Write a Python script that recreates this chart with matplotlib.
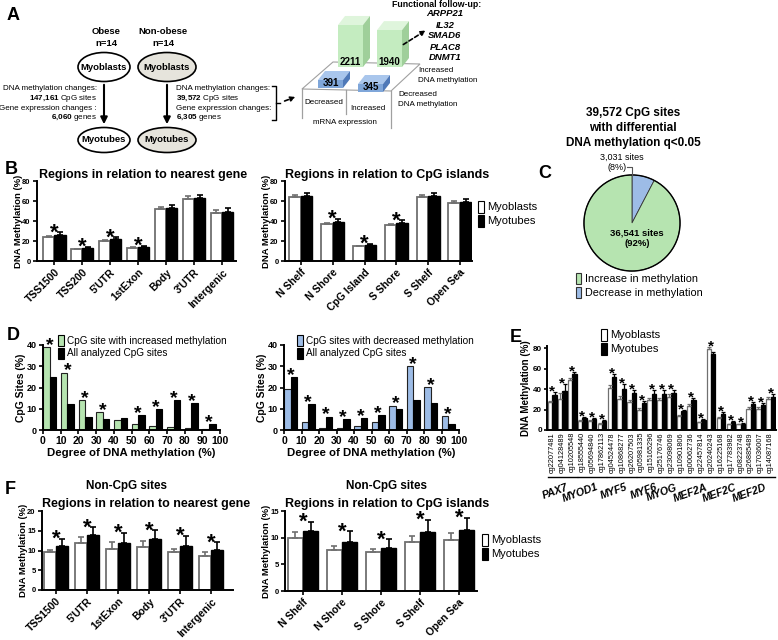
import numpy as np
import matplotlib
matplotlib.use('Agg')
import matplotlib.pyplot as plt
from matplotlib.patches import Ellipse, Polygon, Rectangle, FancyArrowPatch
import matplotlib.transforms as mtransforms

# ---------------- data ----------------
cohort_names = ['Obese', 'Non-obese']
cohort_n = [14, 14]
cpg_sites_changed = ['147,161', '39,572']
genes_changed = ['6,060', '6,305']
overlap_counts = [2211, 1940, 391, 345]   # inc-meth/dec-mRNA, inc-meth/inc-mRNA, dec-meth/dec-mRNA, dec-meth/inc-mRNA
followup_genes = ['ARPP21', 'IL32', 'SMAD6', 'PLAC8', 'DNMT1']

gene_regions = ['TSS1500', 'TSS200', "5'UTR", '1stExon', 'Body', "3'UTR", 'Intergenic']
gene_myoblasts = [24, 12, 20.5, 13.5, 52, 62.5, 48.5]
gene_myoblasts_err = [1.0, 0.5, 0.8, 0.6, 2.0, 2.5, 2.5]
gene_myotubes = [26, 13.5, 22, 14.5, 53.5, 63.5, 49.5]
gene_myotubes_err = [3.0, 1.0, 2.0, 1.0, 3.0, 3.0, 3.5]
gene_sig = [1, 1, 1, 1, 0, 0, 0]

island_regions = ['N Shelf', 'N Shore', 'CpG Island', 'S Shore', 'S Shelf', 'Open Sea']
island_myoblasts = [64, 37, 15, 36, 64.5, 58]
island_myoblasts_err = [2.0, 1.5, 0.5, 1.5, 2.0, 2.0]
island_myotubes = [65, 39, 16, 38, 65.5, 59]
island_myotubes_err = [3.0, 3.5, 1.5, 3.0, 2.5, 3.0]
island_sig = [0, 1, 1, 1, 0, 0]

pie_labels = ['Increase in methylation', 'Decrease in methylation']
pie_counts = [36541, 3031]

meth_bins = [0, 10, 20, 30, 40, 50, 60, 70, 80, 90]
inc_sites = [39, 27, 14, 8.3, 4.8, 2.8, 1.7, 1.2, 0.8, 0.3]
all_sites = [25, 12.3, 6.3, 5.2, 5.6, 7.1, 9.8, 14.2, 12.5, 2.6]
inc_sig = [1, 1, 1, 1, 0, 1, 1, 1, 1, 1]
dec_sites = [19.5, 3.8, 0.9, 0.9, 1.8, 4.0, 11.5, 30, 20.3, 6.5]
dec_sig = [1, 1, 1, 1, 1, 1, 1, 1, 1, 1]

probes = ['cg22077481', 'cg04128489', 'cg10205548', 'cg18555440', 'cg05694840', 'cg17862113',
          'cg04524478', 'cg10868277', 'cg26207503', 'cg05981335', 'cg15165296', 'cg25176746',
          'cg23098069', 'cg10901806', 'cg00062736', 'cg22457814', 'cg20240243', 'cg16225168',
          'cg17783982', 'cg08223748', 'cg26885489', 'cg17036007', 'cg14087168']
probe_genes = ['PAX7', 'MYOD1', 'MYF5', 'MYF6', 'MYOG', 'MEF2A', 'MEF2C', 'MEF2D']
probes_per_gene = [3, 3, 3, 3, 2, 3, 3, 3]
probe_myoblasts = [27, 30.5, 49, 8.5, 8.5, 6.2, 41, 30.5, 27, 20, 28.8, 29.7, 31.8, 13.6, 23.6, 7.6,
                   79, 12, 5.5, 5.5, 20.6, 20.6, 30.3]
probe_myoblasts_err = [1.5, 6, 2, 1, 1, 1, 3, 3, 2, 1.5, 2, 2, 3, 1, 1.5, 0.5, 2, 1, 0.5, 0.5, 1.5, 1.5, 1.5]
probe_myotubes = [34.5, 38.5, 54.5, 11.5, 10.5, 9.2, 52, 40, 36, 26.7, 34.8, 34.8, 36.4, 18.2, 29.7, 9.7,
                  74, 15.8, 7.6, 6.1, 25.8, 24.8, 32.7]
probe_myotubes_err = [2.5, 6, 2.5, 1, 1, 1, 3, 5, 3, 2, 4, 4, 3, 1.5, 2, 1, 2, 1.5, 1, 0.5, 2, 2, 2]

nc_gene_regions = ['TSS1500', "5'UTR", '1stExon', 'Body', "3'UTR", 'Intergenic']
nc_gene_myoblasts = [9.5, 12, 10.5, 11, 9.5, 8.5]
nc_gene_myoblasts_err = [0.6, 1.4, 1.7, 1.3, 0.9, 1.2]
nc_gene_myotubes = [11.1, 14, 12, 13, 11.2, 10.2]
nc_gene_myotubes_err = [1.9, 1.9, 2.5, 2.1, 2.5, 1.9]
nc_gene_sig = [1, 1, 1, 1, 1, 1]

nc_island_regions = ['N Shelf', 'N Shore', 'S Shore', 'S Shelf', 'Open Sea']
nc_island_myoblasts = [10, 7.6, 7.3, 9.2, 9.5]
nc_island_myoblasts_err = [1.0, 0.8, 0.6, 1.2, 1.4]
nc_island_myotubes = [11.2, 9.2, 8.0, 11.0, 11.4]
nc_island_myotubes_err = [1.8, 2.0, 1.7, 2.4, 2.3]
nc_island_sig = [1, 1, 1, 1, 1]

series_names = ['Myoblasts', 'Myotubes']

# ---------------- setup ----------------
W, H = 778, 640
plt.rcParams['font.family'] = ['Liberation Sans', 'DejaVu Sans']
plt.rcParams['mathtext.fontset'] = 'custom'
plt.rcParams['mathtext.rm'] = 'Liberation Sans'
plt.rcParams['mathtext.bf'] = 'Liberation Sans:bold'
plt.rcParams['mathtext.it'] = 'Liberation Sans:italic'

fig = plt.figure(figsize=(W / 100, H / 100), dpi=100)
fig.patch.set_facecolor('white')


def overlay():
    o = fig.add_axes([0, 0, 1, 1])
    o.set_xlim(0, W)
    o.set_ylim(H, 0)
    o.axis('off')
    o.patch.set_alpha(0)
    return o


ov = overlay()


def add_ax(x0, y0, x1, y1):
    ax = fig.add_axes([x0 / W, 1 - y1 / H, (x1 - x0) / W, (y1 - y0) / H])
    ax._px = (x0, y0, x1, y1)
    return ax


def ylabel_at(ax, text, right_px, fs):
    x0, y0, x1, y1 = ax._px
    ax.set_ylabel(text, fontsize=fs, fontweight='bold')
    ax.yaxis.set_label_coords((right_px - x0) / (x1 - x0), 0.5)


GREEN = '#b6e4b0'
BLUE = '#9dbce6'
EDGE_W = '#707070'


def style_ax(ax, ytick_fs=5.5):
    for s in ['top', 'right']:
        ax.spines[s].set_visible(False)
    for s in ['left', 'bottom']:
        ax.spines[s].set_linewidth(1.4)
    ax.tick_params(axis='both', width=1.2, length=3, direction='out', pad=1.5)
    ax.tick_params(axis='y', labelsize=ytick_fs)
    for lab in ax.get_yticklabels():
        lab.set_fontweight('bold')
    ax.patch.set_alpha(0)


def star(ax, x, y, fs, dy=-3):
    ax.annotate('*', xy=(x, y), xytext=(0, dy), textcoords='offset points',
                ha='center', va='baseline', fontsize=fs, fontweight='bold', annotation_clip=False)


def grouped(ax, cats, a, ea, b, eb, sig, width, ylim, yticks, cat_fs, star_fs, ylab_fs=6.8):
    x = np.arange(len(cats))
    ax.bar(x - width / 2, a, width, color='white', edgecolor=EDGE_W, lw=1.3,
           yerr=[np.zeros(len(a)), ea], error_kw=dict(ecolor=EDGE_W, capsize=2.5, elinewidth=1.2, capthick=1.2))
    ax.bar(x + width / 2, b, width, color='black', edgecolor='black', lw=1.0,
           yerr=[np.zeros(len(b)), eb], error_kw=dict(ecolor='black', capsize=2.5, elinewidth=1.2, capthick=1.2))
    ax.set_ylim(*ylim)
    ax.set_yticks(yticks)
    ax.set_xticks(x)
    ax.set_xticklabels(cats, rotation=45, ha='right', rotation_mode='anchor', fontsize=cat_fs, fontweight='bold')
    ax.tick_params(axis='x', length=0, pad=2)
    style_ax(ax)
    ylabel_at(ax, 'DNA Methylation (%)', ax._px[0] - 14, ylab_fs)
    for i, s in enumerate(sig):
        if s:
            top = max(a[i] + ea[i], b[i] + eb[i])
            star(ax, x[i], top, star_fs, dy=-4.5)
    return x


# ---------------- Panel letters ----------------
for lab, (px, py) in zip('ABCDEF', [(7, 16), (5, 170), (538, 173), (7, 336), (510, 337), (5, 489)]):
    ov.text(px, py, lab, fontsize=13, fontweight='bold', ha='left', va='center')

# ---------------- Panel A (scheme) ----------------
col_x = [104, 167]
ell_w = [52, 58]
fills = ['white', '#e6e4dc']
for i in range(2):
    ov.text(col_x[i] + (2 if i == 0 else -4), 32, cohort_names[i], fontsize=6.8, fontweight='bold', ha='center', va='center')
    ov.text(col_x[i] + (2 if i == 0 else -4), 43, 'n=%d' % cohort_n[i], fontsize=6.8, fontweight='bold', ha='center', va='center')
    ov.add_patch(Ellipse((col_x[i], 67), ell_w[i], 29, fc=fills[i], ec='black', lw=1.2))
    ov.text(col_x[i], 67, 'Myoblasts', fontsize=6.8, fontweight='bold', ha='center', va='center')
    ov.add_patch(Ellipse((col_x[i], 140), ell_w[i], 25, fc=fills[i], ec='black', lw=1.2))
    ov.text(col_x[i], 140, 'Myotubes', fontsize=6.8, fontweight='bold', ha='center', va='center')
    ov.add_patch(FancyArrowPatch((col_x[i], 82), (col_x[i], 127), arrowstyle='-|>', mutation_scale=10,
                                 lw=1.5, color='black'))

ov.text(97, 89, 'DNA methylation changes:', fontsize=5.8, ha='right', va='center')
ov.text(97, 98.5, r'$\mathbf{%s}$ CpG sites' % cpg_sites_changed[0].replace(',', '{,}'), fontsize=5.8, ha='right', va='center')
ov.text(97, 108, 'Gene expression changes :', fontsize=5.8, ha='right', va='center')
ov.text(97, 117.5, r'$\mathbf{%s}$ genes' % genes_changed[0].replace(',', '{,}'), fontsize=5.8, ha='right', va='center')
ov.text(176, 89, 'DNA methylation changes:', fontsize=5.8, ha='left', va='center')
ov.text(176, 98.5, r'$\mathbf{%s}$ CpG sites' % cpg_sites_changed[1].replace(',', '{,}'), fontsize=5.8, ha='left', va='center')
ov.text(176, 108, 'Gene expression changes:', fontsize=5.8, ha='left', va='center')
ov.text(176, 117.5, r'$\mathbf{%s}$ genes' % genes_changed[1].replace(',', '{,}'), fontsize=5.8, ha='left', va='center')
# bracket
ov.plot([272, 276, 276, 272], [86, 86, 120, 120], color='black', lw=1.0)
ov.plot([276, 280], [103, 103], color='black', lw=1.0)
ov.add_patch(FancyArrowPatch((282, 102), (298, 96), arrowstyle='-|>', mutation_scale=7, lw=1.2,
                             color='black', linestyle=(0, (2.5, 1.5))))

# floor of 3D chart
ov.add_patch(Polygon([(302, 89), (391, 91), (420, 64), (333, 62)], closed=True, fc='white', ec='#a0a0a0', lw=0.8))
ov.plot([302, 302], [89, 118], color='#a0a0a0', lw=0.9)
ov.plot([346, 346], [90, 114], color='#a0a0a0', lw=0.9)
ov.plot([391, 391], [91, 128], color='#a0a0a0', lw=0.9)
ov.text(324, 103, 'Decreased', fontsize=5.8, ha='center', va='center')
ov.text(368, 108, 'Increased', fontsize=5.8, ha='center', va='center')
ov.text(345, 123, 'mRNA expression', fontsize=5.8, ha='center', va='center')
ov.text(418, 70, 'Increased', fontsize=5.8, ha='left', va='center')
ov.text(418, 80, 'DNA methylation', fontsize=5.8, ha='left', va='center')
ov.text(398, 95, 'Decreased', fontsize=5.8, ha='left', va='center')
ov.text(398, 104, 'DNA methylation', fontsize=5.8, ha='left', va='center')

px_per_site = 0.019


def box3d(x, base, val, front, top, side, w=25, dx=7, dy=-9, min_h=8):
    h = max(val * px_per_site, min_h)
    yt = base - h
    ov.add_patch(Polygon([(x, yt), (x + w, yt), (x + w + dx, yt + dy), (x + dx, yt + dy)], fc=top, ec='none'))
    ov.add_patch(Polygon([(x + w, base), (x + w, yt), (x + w + dx, yt + dy), (x + w + dx, base + dy)], fc=side, ec='none'))
    ov.add_patch(Rectangle((x, yt), w, h, fc=front, ec='none'))
    ov.text(x + w / 2, base - 5, '%d' % val, fontsize=7, fontweight='bold', ha='center', va='center')


box3d(338, 67, overlap_counts[0], '#c4ecc0', '#dff5dc', '#9fcf9a')
box3d(377, 67, overlap_counts[1], '#c4ecc0', '#dff5dc', '#9fcf9a')
box3d(318, 88, overlap_counts[2], '#7fa6d9', '#a9c6ec', '#4f79b8')
box3d(358, 92, overlap_counts[3], '#7fa6d9', '#a9c6ec', '#4f79b8')

ov.add_patch(FancyArrowPatch((401, 46), (428, 29), arrowstyle='-|>', mutation_scale=7, lw=1.2,
                             color='black', linestyle=(0, (2.5, 1.5))))
ov.text(437, 4.5, 'Functional follow-up:', fontsize=6.3, fontweight='bold', ha='center', va='center')
for k, g in enumerate(followup_genes):
    ov.text(445, 14 + k * 11, g, fontsize=6.8, fontstyle='italic', fontweight='bold', ha='center', va='center')

# ---------------- Panel B ----------------
axB1 = add_ax(37, 181, 236, 261)
grouped(axB1, gene_regions, gene_myoblasts, gene_myoblasts_err, gene_myotubes, gene_myotubes_err,
        gene_sig, 0.4, (0, 80), [0, 20, 40, 60, 80], 7.5, 16)
axB1.set_xlim(-0.62, 6.5)
axB1.set_title('Regions in relation to nearest gene', fontsize=9, fontweight='bold', loc='left', pad=2.5, x=0.01)

axB2 = add_ax(285, 181, 472, 261)
grouped(axB2, island_regions, island_myoblasts, island_myoblasts_err, island_myotubes, island_myotubes_err,
        island_sig, 0.36, (0, 80), [0, 20, 40, 60, 80], 7.5, 16)
axB2.set_xlim(-0.5, 5.38)
axB2.set_title('Regions in relation to CpG islands', fontsize=9, fontweight='bold', loc='left', pad=2.5, x=0.0)


def mini_legend(x, y, names, colors, fs=8, gap=14):
    for k, (n, c) in enumerate(zip(names, colors)):
        ov.add_patch(Rectangle((x, y + k * gap - 6), 6, 12, fc=c, ec='black', lw=0.8))
        ov.text(x + 9, y + k * gap, n, fontsize=fs, ha='left', va='center')


mini_legend(478, 207, series_names, ['white', 'black'])

# ---------------- Panel C (pie) ----------------
ov.text(633, 113, '39,572 CpG sites', fontsize=8.5, fontweight='bold', ha='center', va='center')
ov.text(633, 128, 'with differential', fontsize=8.5, fontweight='bold', ha='center', va='center')
ov.text(633, 143, 'DNA methylation q<0.05', fontsize=8.5, fontweight='bold', ha='center', va='center')
axC = add_ax(583, 174, 681, 272)
axC.pie([pie_counts[1], pie_counts[0]], colors=[BLUE, GREEN], startangle=90, counterclock=False,
        wedgeprops=dict(edgecolor='#333333', linewidth=0.6))
axC.add_patch(plt.Circle((0, 0), 1.0, fill=False, ec='black', lw=1.0))
axC.set_xlim(-1.02, 1.02)
axC.set_ylim(-1.02, 1.02)
axC.set_aspect('equal')
tot = sum(pie_counts)
for k, (lab, c) in enumerate(zip(pie_labels, [GREEN, BLUE])):
    ov.add_patch(Rectangle((576, 273 + k * 14), 5, 11, fc=c, ec='#333333', lw=0.8))
    ov.text(585, 279 + k * 14, lab, fontsize=7.8, ha='left', va='center')

# ---------------- Panel D ----------------
def dist(ax, vals, color, sig):
    b = np.array(meth_bins)
    ax.bar(b + 0.1, vals, 3.7, align='edge', color=color, edgecolor='#222222', lw=0.8)
    ax.bar(b + 3.8, all_sites, 3.7, align='edge', color='black', edgecolor='black', lw=0.8)
    ax.set_xlim(0, 100)
    ax.set_ylim(0, 40)
    ax.set_xticks(range(0, 101, 10))
    ax.set_yticks([0, 10, 20, 30, 40])
    style_ax(ax, ytick_fs=6.5)
    ax.tick_params(axis='x', labelsize=7.5)
    for lab in ax.get_xticklabels():
        lab.set_fontweight('bold')
    ax.set_xlabel('Degree of DNA methylation (%)', fontsize=8.2, fontweight='bold', labelpad=1)
    ylabel_at(ax, 'CpG Sites (%)', ax._px[0] - 17, 7.5)
    for i, s in enumerate(sig):
        if s:
            star(ax, b[i] + 3.8, max(vals[i], all_sites[i]), 14, dy=-2)


axD1 = add_ax(43, 345, 220, 430)
dist(axD1, inc_sites, GREEN, inc_sig)
axD2 = add_ax(284, 345, 459, 430)
dist(axD2, dec_sites, BLUE, dec_sig)
for x0, name, c in [(58, 'CpG site with increased methylation', GREEN), (297, 'CpG sites with decreased methylation', BLUE)]:
    ov.add_patch(Rectangle((x0, 335), 6, 11, fc=c, ec='black', lw=0.8))
    ov.text(x0 + 9, 340.5, name, fontsize=7.2, ha='left', va='center')
    ov.add_patch(Rectangle((x0, 348), 6, 11, fc='black', ec='black', lw=0.8))
    ov.text(x0 + 9, 353.5, 'All analyzed CpG sites', fontsize=7.2, ha='left', va='center')

# ---------------- Panel E ----------------
axE = add_ax(547, 346, 776, 430)
xe = np.arange(len(probes))
we = 0.44
axE.bar(xe - we / 2, probe_myoblasts, we, color='white', edgecolor=EDGE_W, lw=0.9,
        yerr=[np.zeros(len(xe)), probe_myoblasts_err], error_kw=dict(ecolor=EDGE_W, capsize=1.2, elinewidth=0.9, capthick=0.9))
axE.bar(xe + we / 2, probe_myotubes, we, color='black', edgecolor='black', lw=0.9,
        yerr=[np.zeros(len(xe)), probe_myotubes_err], error_kw=dict(ecolor='black', capsize=1.2, elinewidth=0.9, capthick=0.9))
axE.set_xlim(-0.55, len(probes) - 0.45)
axE.set_ylim(0, 82)
axE.set_yticks([0, 20, 40, 60, 80])
axE.set_xticks(xe)
axE.set_xticklabels(probes, rotation=90, fontsize=5.3)
style_ax(axE, ytick_fs=5.8)
axE.tick_params(axis='x', length=0, pad=1.5)
axE.tick_params(axis='y', pad=1, length=2.5)
ylabel_at(axE, 'DNA Methylation (%)', 531, 7)
for i in range(len(probes)):
    star(axE, xe[i], max(probe_myoblasts[i] + probe_myoblasts_err[i], probe_myotubes[i] + probe_myotubes_err[i]), 11, dy=-2.5)
trE = mtransforms.blended_transform_factory(axE.transData, axE.transAxes)
start = 0
for g, n in zip(probe_genes, probes_per_gene):
    axE.plot([start - 0.45, start + n - 0.55], [-0.565, -0.565], color='black', lw=1.0, transform=trE, clip_on=False)
    axE.text(start + n - 1.6, -0.62, g, transform=trE, fontsize=7.6, fontweight='bold', fontstyle='italic',
             rotation=20, ha='right', va='top', rotation_mode='anchor')
    start += n
mini_legend(601, 335, series_names, ['white', 'black'], fs=8, gap=14)

# ---------------- Panel F ----------------
ov.text(127, 486, 'Non-CpG sites', fontsize=8.4, fontweight='bold', ha='center', va='center')
ov.text(387, 486, 'Non-CpG sites', fontsize=8.4, fontweight='bold', ha='center', va='center')
axF1 = add_ax(42, 511, 233, 590)
grouped(axF1, nc_gene_regions, nc_gene_myoblasts, nc_gene_myoblasts_err, nc_gene_myotubes, nc_gene_myotubes_err,
        nc_gene_sig, 0.39, (0, 20), [0, 5, 10, 15, 20], 7.5, 16)
axF1.set_xlim(-0.45, 5.7)
axF1.set_title('Regions in relation to nearest gene', fontsize=9, fontweight='bold', loc='left', pad=3, x=-0.0)

axF2 = add_ax(285, 511, 477, 591)
grouped(axF2, nc_island_regions, nc_island_myoblasts, nc_island_myoblasts_err, nc_island_myotubes, nc_island_myotubes_err,
        nc_island_sig, 0.39, (0, 15), [0, 5, 10, 15], 7.5, 16)
axF2.set_xlim(-0.46, 4.46)
axF2.set_title('Regions in relation to CpG islands', fontsize=9, fontweight='bold', loc='left', pad=3, x=-0.0)
mini_legend(482, 540, series_names, ['white', 'black'])

# ---------------- top overlay (text over the pie) ----------------
top = overlay()
top.text(637, 233, '{:,} sites'.format(pie_counts[0]), fontsize=6.8, fontweight='bold', ha='center', va='center')
top.text(637, 244, '({:.0f}%)'.format(100 * pie_counts[0] / tot), fontsize=6.8, fontweight='bold', ha='center', va='center')
top.text(622, 157, '{:,} sites'.format(pie_counts[1]), fontsize=6.5, ha='center', va='center')
top.text(617, 168, '({:.0f}%)'.format(100 * pie_counts[1] / tot), fontsize=6.5, ha='center', va='center')
top.plot([627, 632, 632], [167, 167, 174.5], color='#555555', lw=0.8)

fig.savefig('out.png', dpi=100)
